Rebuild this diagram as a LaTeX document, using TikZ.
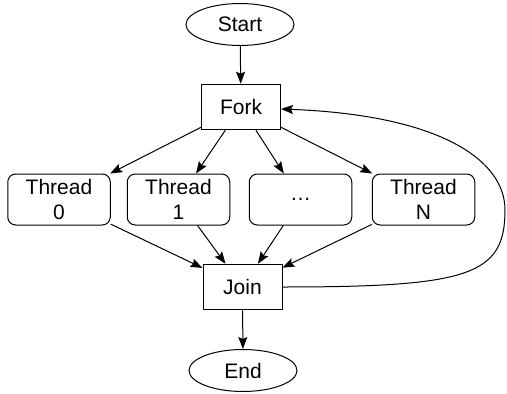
\documentclass[tikz,border=0pt]{standalone}
\usepackage{fontspec}
\setmainfont{Liberation Sans}
\usetikzlibrary{arrows.meta,shapes.geometric}
\begin{document}
\begin{tikzpicture}[x=1pt,y=-1pt,
  every node/.style={font=\fontsize{21}{25.5}\selectfont, inner sep=0pt, line width=1pt},
  term/.style={draw, ellipse, minimum width=108pt, minimum height=42pt},
  proc/.style={draw, rectangle, minimum width=79pt, minimum height=45.5pt},
  thr/.style={draw, rectangle, rounded corners=8pt, minimum width=102.5pt, minimum height=51pt, align=center},
  conn/.style={line width=1pt, -{Stealth[length=12pt, width=9pt, inset=2pt]}}]
\useasboundingbox (0,0) rectangle (507,394);
\node[term] (start) at (240,24.5) {Start};
\node[proc] (fork) at (241,107) {Fork};
\node[thr] (t0) at (59,199.5) {Thread\\0};
\node[thr] (t1) at (178.5,199.5) {Thread\\1};
\node[thr] (td) at (300.5,199.5) {…};
\node[thr] (tn) at (423.5,199.5) {Thread\\N};
\node[proc] (join) at (242.5,287) {Join};
\node[term] (end) at (243,370.5) {End};
\draw[conn] (start) -- (fork);
\draw[conn] (fork) -- (t0);
\draw[conn] (fork) -- (t1);
\draw[conn] (fork) -- (td);
\draw[conn] (fork) -- (tn);
\draw[conn] (t0) -- (join);
\draw[conn] (t1) -- (join);
\draw[conn] (td) -- (join);
\draw[conn] (tn) -- (join);
\draw[conn] (join) -- (end);
\draw[conn] (join.east) .. controls (470,287) and (505,275) .. (505,210)
  .. controls (505,160) and (440,115) .. ([yshift=-2pt]fork.east);
\end{tikzpicture}
\end{document}
